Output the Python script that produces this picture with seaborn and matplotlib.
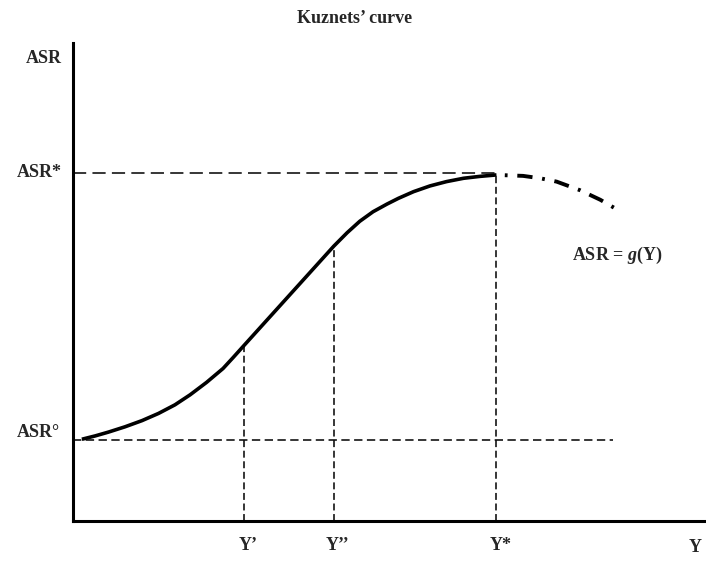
import numpy as np
import matplotlib
matplotlib.use('Agg')
import matplotlib.pyplot as plt
import seaborn as sns

# curve (income Y vs ASR)
curve_y = [1.4, 3.5, 5.6, 8.2, 10.9, 13.5, 16.1, 18.5, 21.1, 23.7, 25.3, 27.0,
           41.2, 43.3, 45.3, 47.4, 49.6, 51.4, 53.8, 56.4, 59.0, 61.7, 64.3, 66.9]
curve_asr = [17.1, 17.8, 18.6, 19.7, 21.0, 22.5, 24.3, 26.4, 29.0, 31.9, 34.2, 36.7,
             57.5, 60.3, 62.7, 64.7, 66.3, 67.5, 68.9, 70.1, 71.0, 71.7, 72.1, 72.4]
# declining part after the peak
tail_y = [66.9, 71.1, 73.8, 76.4, 80.1, 83.3, 86.7]
tail_asr = [72.4, 72.2, 71.7, 71.0, 69.2, 67.2, 64.6]

y_marks = [27.0, 41.2, 66.9]
y_marks_asr = [36.7, 57.5, 72.4]
y_labels = ['Y\u2019', 'Y\u2019\u2019', 'Y*']
asr_star = 72.9
asr_zero = 16.9
asr_zero_end = 85.3

sns.set_style('white')
plt.rcParams['font.family'] = ['Liberation Serif', 'DejaVu Serif']
plt.rcParams['font.weight'] = 'bold'
plt.rcParams['mathtext.fontset'] = 'custom'
plt.rcParams['mathtext.it'] = 'Liberation Serif:italic:bold'
plt.rcParams['mathtext.rm'] = 'Liberation Serif:bold'
plt.rcParams['lines.scale_dashes'] = False

fig = plt.figure(figsize=(7.06, 5.61), dpi=100)
ax = fig.add_axes([73 / 706, 40 / 561, 633 / 706, 478 / 561])

# guide lines
ax.plot([0, y_marks[2]], [asr_star, asr_star], color='black', lw=1.1, dashes=(9.5, 4.5))
ax.plot([0, asr_zero_end], [asr_zero, asr_zero], color='black', lw=1.1, dashes=(6, 3.2))
for xm, ym in zip(y_marks, y_marks_asr):
    ax.plot([xm, xm], [0, ym], color='black', lw=1.1, dashes=(5, 2.6))

sns.lineplot(x=curve_y, y=curve_asr, sort=False, estimator=None, color='black',
             lw=2.6, ax=ax, solid_capstyle='butt', solid_joinstyle='round')
ax.plot(tail_y, tail_asr, color='black', lw=2.8, linestyle=(12, (11, 7, 2, 7)),
        dash_capstyle='butt')

ax.set_xlim(0, 100)
ax.set_ylim(0, 100)
ax.set_xticks([])
ax.set_yticks([])
for side in ['top', 'right']:
    ax.spines[side].set_visible(False)
for side in ['left', 'bottom']:
    ax.spines[side].set_linewidth(2.2)
    ax.spines[side].set_color('black')

fs = 13
ax.text(-1.7, 96.7, 'ASR', ha='right', va='center', fontsize=fs, fontweight='bold', clip_on=False)
ax.text(-1.7, asr_star, 'ASR*', ha='right', va='center', fontsize=fs, fontweight='bold', clip_on=False)
ax.text(-2.0, 18.6, 'ASR\u00b0', ha='right', va='center', fontsize=fs, fontweight='bold', clip_on=False)
for xm, lab in zip(y_marks, y_labels):
    ax.text(xm + 0.6, -5.2, lab, ha='center', va='center', fontsize=fs, fontweight='bold', clip_on=False)
ax.text(98.3, -5.6, 'Y', ha='center', va='center', fontsize=fs, fontweight='bold', clip_on=False)
ax.text(78.8, 55.6, 'ASR = $g$(Y)', ha='left', va='center', fontsize=fs, fontweight='bold')
fig.text(355 / 706, 1 - 18.5 / 561, 'Kuznets\u2019 curve', ha='center', va='center',
         fontsize=fs, fontweight='bold')

fig.savefig('out.png', dpi=100)
